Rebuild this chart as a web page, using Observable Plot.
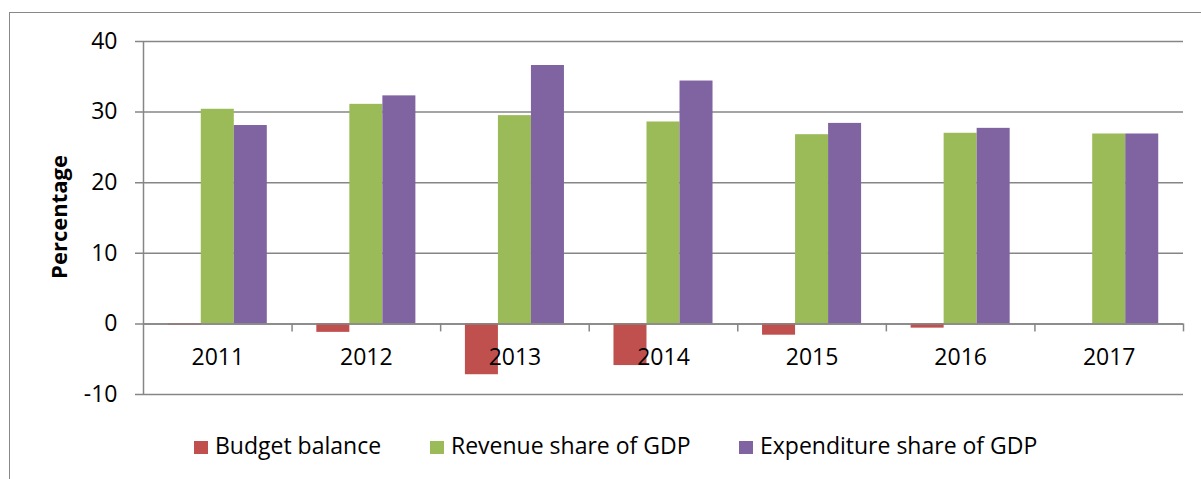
<!DOCTYPE html>
<html>
<head>
<meta charset="utf-8">
<script src="https://cdn.jsdelivr.net/npm/d3@7"></script>
<script src="https://cdn.jsdelivr.net/npm/@observablehq/plot@0.6"></script>
<style>
  html, body { margin: 0; padding: 0; background: #fff; overflow: hidden; }
  #wrap { position: relative; width: 1201px; height: 479px; overflow: hidden; font-family: "Open Sans", sans-serif; color: #000; }
  #frame { position: absolute; left: 9px; top: 12px; width: 1400px; height: 700px; border: 1.5px solid #888; box-sizing: border-box; }
  #chart { position: absolute; left: 0; top: 0; }
  #ylabel { position: absolute; left: -42px; top: 203px; width: 200px; height: 28px; line-height: 28px; text-align: center;
            font-weight: bold; font-size: 22px; transform: rotate(-90deg); white-space: nowrap; }
  .leg-sw { position: absolute; width: 14px; height: 13px; top: 441px; }
  .leg-tx { position: absolute; top: 430px; font-size: 23px; line-height: 30px; white-space: nowrap; }
</style>
</head>
<body>
<div id="wrap">
  <div id="frame"></div>
  <div id="chart"></div>
  <div id="ylabel">Percentage</div>
</div>
<script>
// ---- data ----
const years = [2011, 2012, 2013, 2014, 2015, 2016, 2017];
const seriesNames = ["Budget balance", "Revenue share of GDP", "Expenditure share of GDP"];
const budgetBalance    = [-0.2, -1.2, -7.2, -5.9, -1.6, -0.6, 0];
const revenueShare     = [30.4, 31.1, 29.5, 28.6, 26.8, 27.0, 26.9];
const expenditureShare = [28.1, 32.3, 36.6, 34.4, 28.4, 27.7, 26.9];
const yTicks = [-10, 0, 10, 20, 30, 40];
const seriesColors = ["#C0504D", "#9BBB59", "#8064A2"];

// ---- build table ----
const seriesValues = [budgetBalance, revenueShare, expenditureShare];
const rows = years.flatMap((yr, i) =>
  seriesNames.map((s, k) => ({year: yr, series: s, k, value: seriesValues[k][i]})));

// bars: 3 bars per category, gap = 1.5 bar widths (Excel gap width 150%)
const barW = 1 / (seriesNames.length + 1.5);
const bx1 = d => d.year - 0.5 + (0.75 + d.k) * barW;
const bx2 = d => bx1(d) + barW;
const boundaries = years.map(y => y + 0.5);

const gray = "#868686";

const chart = Plot.plot({
  width: 1201,
  height: 420,
  marginLeft: 143,
  marginRight: 18,
  marginTop: 41,
  marginBottom: 26,
  style: {fontFamily: "Open Sans", fontSize: "23px", color: "#000", background: "transparent"},
  x: {domain: [years[0] - 0.5, years[years.length - 1] + 0.5], axis: null},
  y: {domain: [-10, 40], ticks: yTicks, tickSize: 0, tickPadding: 26, label: null, tickFormat: d => String(d)},
  color: {domain: seriesNames, range: seriesColors},
  marks: [
    Plot.ruleY(yTicks, {stroke: gray, strokeWidth: 1.5, insetLeft: -8}),
    Plot.rect(rows, {x1: bx1, x2: bx2, y1: () => 0, y2: "value", fill: "series"}),
    Plot.ruleY([0], {stroke: gray, strokeWidth: 1.5}),
    Plot.ruleX([years[0] - 0.5], {stroke: gray, strokeWidth: 1.5}),
    Plot.ruleX(boundaries, {x: d => d, y1: () => 0, y2: () => 0, insetBottom: -8, stroke: gray, strokeWidth: 1.5}),
    Plot.text(years, {x: d => d, y: () => 0, text: d => String(d), dy: 34, fontSize: 23, fill: "#000"})
  ]
});
document.getElementById("chart").appendChild(chart);

// ---- legend ----
const wrap = document.getElementById("wrap");
const legendLeft = [194, 430, 739];
seriesNames.forEach((name, k) => {
  const sw = document.createElement("div");
  sw.className = "leg-sw";
  sw.style.left = legendLeft[k] + "px";
  sw.style.background = seriesColors[k];
  wrap.appendChild(sw);
  const tx = document.createElement("div");
  tx.className = "leg-tx";
  tx.style.left = (legendLeft[k] + 21) + "px";
  tx.textContent = name;
  wrap.appendChild(tx);
});
</script>
</body>
</html>
